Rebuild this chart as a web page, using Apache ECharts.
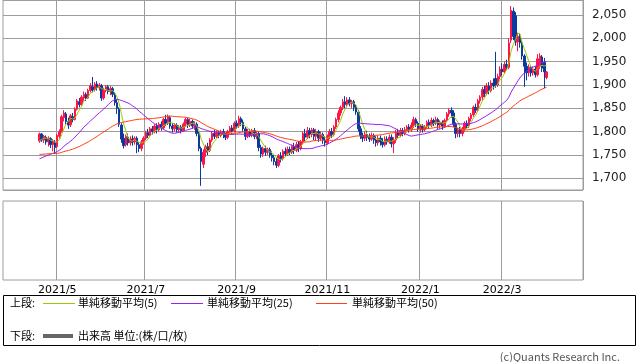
<!DOCTYPE html>
<html><head><meta charset="utf-8">
<script src="https://cdn.jsdelivr.net/npm/echarts@6/dist/echarts.min.js"></script>
<style>html,body{margin:0;padding:0;background:#fff}#c{width:638px;height:362px}</style>
</head><body><div id="c"></div>
<script>
// ---- calendar (TSE trading days) ----
const AXIS_START = '2021-03-29';
const AXIS_END = '2022-04-21';
const HOLIDAYS = ['2021-04-29','2021-05-03','2021-05-04','2021-05-05','2021-07-22','2021-07-23','2021-08-09',
  '2021-09-20','2021-09-23','2021-11-03','2021-11-23','2021-12-31','2022-01-03','2022-01-10','2022-02-11',
  '2022-02-23','2022-03-21'];
const FIRST_CANDLE = '2021-04-20';
const LABEL_MONTHS = ['2021/5','2021/7','2021/9','2021/11','2022/1','2022/3'];
const PRICE_TICKS = [1700,1750,1800,1850,1900,1950,2000,2050];

// ---- daily prices (visible window) ----
const open = [
1780,1795,1782,1788,1778,1785,1772,1778,1768,1790, 1800,1830,1838,1822,1815,1832,1826,1848,1864,1858,
1872,1880,1872,1888,1896,1890,1902,1894,1898,1872, 1888,1896,1886,1892,1880,1862,1848,1814,1786,1772,
1788,1776,1784,1778,1786,1772,1764,1778,1786,1798, 1792,1806,1800,1812,1804,1816,1808,1826,1818,1830,
1812,1806,1814,1804,1810,1802,1816,1826,1814,1822, 1812,1816,1796,1764,1730,1756,1768,1760,1782,1796,
1790,1798,1792,1800,1794,1788,1800,1808,1800,1818, 1812,1828,1820,1806,1790,1800,1794,1802,1790,1796,
1766,1752,1764,1756,1762,1750,1744,1736,1728,1748, 1742,1758,1752,1762,1756,1768,1760,1772,1764,1778,
1796,1788,1802,1794,1804,1790,1800,1786,1794,1782, 1776,1790,1800,1794,1810,1826,1840,1852,1864,1858,
1868,1860,1864,1852,1842,1806,1792,1786,1794,1788, 1784,1792,1782,1776,1786,1778,1772,1784,1778,1788,
1774,1782,1798,1792,1802,1796,1804,1810,1804,1814, 1826,1818,1806,1812,1804,1810,1820,1814,1824,1818,
1826,1814,1820,1812,1824,1838,1846,1840,1816,1796, 1804,1796,1806,1818,1812,1828,1836,1852,1846,1866,
1874,1890,1882,1898,1888,1904,1914,1900,1918,1934, 1928,1944,1938,1996,2058,2048,1992,2004,1990,1962,
1940,1926,1938,1926,1934,1922,1940,1960,1948,1916];
const close = [
1795,1782,1790,1778,1786,1772,1780,1766,1792,1800, 1832,1840,1822,1814,1834,1826,1848,1866,1858,1874,
1880,1872,1888,1898,1890,1902,1894,1900,1872,1888, 1896,1886,1892,1880,1862,1850,1816,1784,1770,1790,
1776,1784,1778,1786,1772,1764,1778,1786,1798,1792, 1806,1800,1812,1804,1816,1808,1826,1818,1832,1812,
1806,1814,1804,1810,1802,1816,1826,1814,1822,1812, 1816,1796,1764,1736,1756,1768,1760,1782,1796,1790,
1798,1792,1800,1794,1788,1800,1808,1800,1818,1812, 1828,1820,1806,1790,1800,1794,1802,1790,1796,1766,
1752,1764,1756,1762,1750,1744,1736,1728,1748,1742, 1758,1752,1762,1756,1768,1760,1772,1764,1778,1796,
1788,1802,1794,1804,1790,1800,1786,1794,1782,1776, 1790,1800,1794,1810,1826,1840,1852,1864,1858,1868,
1860,1864,1852,1842,1806,1792,1786,1794,1788,1784, 1792,1782,1776,1786,1778,1772,1784,1778,1788,1774,
1782,1798,1792,1802,1796,1804,1810,1804,1814,1826, 1818,1806,1812,1804,1810,1820,1814,1824,1818,1826,
1814,1820,1812,1824,1838,1846,1840,1816,1796,1804, 1796,1806,1818,1812,1828,1836,1852,1846,1866,1874,
1890,1882,1898,1888,1904,1898,1900,1918,1934,1928, 1944,1938,1990,2060,2004,1992,2004,1990,1962,1940,
1926,1938,1926,1934,1922,1956,1962,1936,1928,1928];
const low = [
1776,1778,1776,1772,1768,1765,1758,1752,1765,1785, 1798,1822,1815,1806,1810,1820,1824,1845,1852,1855,
1866,1866,1870,1884,1884,1886,1888,1888,1866,1868, 1884,1880,1878,1874,1856,1838,1810,1776,1764,1768,
1770,1770,1770,1772,1754,1756,1758,1772,1782,1786, 1790,1794,1796,1796,1800,1802,1804,1812,1814,1806,
1798,1800,1798,1797,1796,1800,1810,1808,1810,1806, 1804,1790,1758,1684,1722,1746,1750,1756,1778,1784,
1786,1786,1788,1786,1782,1784,1796,1794,1798,1806, 1808,1812,1800,1782,1786,1788,1788,1784,1784,1758,
1744,1746,1748,1750,1744,1736,1728,1722,1724,1734, 1738,1746,1748,1750,1752,1752,1756,1756,1760,1774,
1780,1784,1786,1788,1782,1780,1778,1780,1774,1768, 1772,1784,1786,1790,1806,1820,1834,1846,1850,1852,
1854,1850,1844,1836,1800,1784,1778,1780,1780,1778, 1780,1774,1768,1770,1770,1766,1768,1772,1774,1766,
1754,1776,1786,1788,1790,1792,1798,1798,1800,1808, 1810,1800,1798,1798,1800,1806,1808,1810,1812,1814,
1806,1806,1804,1808,1820,1832,1830,1810,1786,1788, 1788,1790,1800,1806,1808,1822,1832,1840,1842,1860,
1868,1874,1878,1880,1884,1890,1894,1896,1912,1920, 1924,1932,1934,1990,1996,1984,1972,1980,1954,1896,
1910,1918,1918,1920,1916,1918,1934,1928,1893,1912];
const high = [
1798,1797,1793,1792,1790,1788,1784,1782,1795,1805, 1836,1846,1842,1830,1838,1840,1852,1870,1872,1878,
1886,1884,1892,1904,1917,1906,1908,1904,1902,1894, 1900,1900,1898,1896,1884,1870,1852,1818,1796,1794,
1796,1790,1792,1790,1790,1778,1782,1790,1802,1806, 1810,1812,1816,1818,1820,1822,1830,1836,1837,1834,
1818,1818,1818,1814,1814,1820,1830,1830,1828,1826, 1822,1820,1800,1768,1762,1772,1776,1786,1800,1804,
1803,1802,1804,1806,1798,1804,1812,1814,1822,1824, 1834,1832,1826,1810,1806,1806,1806,1808,1800,1800,
1772,1768,1770,1766,1766,1758,1750,1744,1752,1756, 1762,1766,1768,1768,1772,1776,1778,1780,1782,1800,
1806,1810,1808,1808,1808,1806,1804,1800,1798,1790, 1794,1806,1808,1814,1830,1846,1856,1870,1876,1874,
1874,1868,1868,1858,1846,1812,1798,1800,1802,1796, 1798,1796,1790,1792,1792,1786,1790,1790,1794,1794,
1788,1804,1806,1808,1808,1810,1814,1816,1820,1832, 1830,1822,1816,1816,1814,1824,1826,1830,1828,1832,
1830,1824,1824,1828,1842,1850,1852,1846,1820,1808, 1810,1810,1822,1824,1832,1840,1856,1860,1870,1878,
1896,1898,1904,1906,1910,1914,1971,1924,1940,1946, 1950,1954,2000,2069,2066,2056,2012,2010,1996,1966,
1948,1944,1942,1940,1940,1966,1968,1964,1958,1930];
// closes of the 49 sessions before the window (only feed the moving averages)
const historyClose = [
1768,1772,1765,1760,1758,1762,1770,1774,1768,1762,1756,1760,1764,1758,1752,1756,1762,1766,1760,1754,
1750,1756,1760,1754,1748,
1736,1732,1728,1734,1738,1732,1726,1730,1736,1734,1728,1724,1730,1736,1732,1728,1734,1738,1736,1730,
1770,1776,1780,1784];

const MA_PERIODS = [5, 25, 50];
const MA_NAMES = ['単純移動平均(5)','単純移動平均(25)','単純移動平均(50)'];
const MA_COLORS = ['#99cc00','#9a1ff0','#ff4010'];
const UP = '#ff1449', DOWN = '#0a3a9e', GRIDC = '#9c9c9c';

// build categories
function ymd(d){return d.toISOString().slice(0,10);}
const cats = [];
{
  let d = new Date(AXIS_START+'T00:00:00Z'); const end = new Date(AXIS_END+'T00:00:00Z');
  while (d <= end) {
    const w = d.getUTCDay(); const s = ymd(d);
    if (w !== 0 && w !== 6 && HOLIDAYS.indexOf(s) < 0) cats.push(s);
    d = new Date(d.getTime()+86400000);
  }
}
// first trading day of each month -> label
const monthLabel = {};
for (let i=0;i<cats.length;i++){
  const [y,m] = cats[i].split('-');
  const lab = (+y)+'/'+(+m);
  if (i===0 || cats[i-1].slice(0,7)!==cats[i].slice(0,7)) monthLabel[i] = lab;
}
const isLabelIdx = i => monthLabel[i] !== undefined && LABEL_MONTHS.indexOf(monthLabel[i]) >= 0;
const startIdx = cats.indexOf(FIRST_CANDLE);

const kData = open.map((o,j)=>[startIdx+j, o, close[j], low[j], high[j]]);
const allClose = historyClose.concat(close);
const H = historyClose.length;
function maSeries(n){
  const out=[];
  for (let j=0;j<close.length;j++){
    const k=H+j; let s=0;
    for (let t=k-n+1;t<=k;t++) s+=allClose[t];
    out.push([startIdx+j, +(s/n).toFixed(2)]);
  }
  return out;
}

const chart = echarts.init(document.getElementById('c'), null, {renderer:'canvas'});
const xCommon = {
  type:'category', data:cats, boundaryGap:true,
  axisLine:{show:false}, axisTick:{show:false},
  splitLine:{show:true, interval:(i)=>isLabelIdx(i), lineStyle:{color:GRIDC, width:1}}
};
const FONT = '"DejaVu Sans", sans-serif';
const JFONT = '"Noto Sans CJK JP", sans-serif';
const fmt = v => String(v).replace(/\B(?=(\d{3})+(?!\d))/g, ',');

const series = [{
  type:'candlestick', xAxisIndex:0, yAxisIndex:0, data:kData, encode:{x:0, y:[1,2,3,4]},
  barWidth:2, silent:true,
  itemStyle:{color:UP, color0:DOWN, borderColor:UP, borderColor0:DOWN, borderWidth:1}
}];
MA_PERIODS.forEach((n,k)=>series.push({
  type:'line', name:MA_NAMES[k], xAxisIndex:0, yAxisIndex:0, data:maSeries(n),
  showSymbol:false, symbol:'none', silent:true, lineStyle:{color:MA_COLORS[k], width:1}, z:3+k
}));

const legendItems = [];
function txt(x,y,s,extra){return Object.assign({type:'text', x:x, y:y, silent:true,
  style:{text:s, font:'11px '+JFONT, fill:'#000', textAlign:'left', textVerticalAlign:'middle', align:'left', verticalAlign:'middle'}}, extra||{});}
function ln(x1,x2,y,color,w){return {type:'line', silent:true, shape:{x1:x1,y1:y,x2:x2,y2:y}, style:{stroke:color, lineWidth:w}};}
legendItems.push({type:'rect', silent:true, shape:{x:3.5,y:295.5,width:632,height:50}, style:{fill:'#fff', stroke:'#000', lineWidth:1}});
legendItems.push(txt(10,303,'上段:'));
legendItems.push(ln(43,75,303.5,MA_COLORS[0],1)); legendItems.push(txt(78,303,MA_NAMES[0]));
legendItems.push(ln(171,203,303.5,MA_COLORS[1],1)); legendItems.push(txt(207,303,MA_NAMES[1]));
legendItems.push(ln(316,347,303.5,MA_COLORS[2],1)); legendItems.push(txt(352,303,MA_NAMES[2]));
legendItems.push(txt(10,336,'下段:'));
legendItems.push(ln(43,73,336,'#666',4)); legendItems.push(txt(78,336,'出来高 単位:(株/口/枚)'));
legendItems.push({type:'text', x:620, y:357, silent:true, style:{text:'(c)Quants Research Inc.', font:'11px '+JFONT, fill:'#555', textAlign:'right', textVerticalAlign:'middle', align:'right', verticalAlign:'middle'}});

chart.setOption({
  animation:false,
  backgroundColor:'#fff',
  grid:[
    {left:3, top:0, width:580, height:190, show:true, borderColor:GRIDC, borderWidth:1, backgroundColor:'#fff'},
    {left:3, top:201, width:580, height:79, show:true, borderColor:GRIDC, borderWidth:1, backgroundColor:'#fff'}
  ],
  xAxis:[
    Object.assign({gridIndex:0, axisLabel:{show:false}}, xCommon),
    Object.assign({gridIndex:1, axisLabel:{show:true, interval:(i)=>isLabelIdx(i), formatter:(v,i)=>monthLabel[i]||'',
      color:'#000', fontSize:11, fontFamily:FONT, margin:5}}, xCommon)
  ],
  yAxis:[
    {type:'value', gridIndex:0, position:'right', min:1675, max:2082, splitNumber:8, minInterval:50, maxInterval:50,
     axisLine:{show:false}, axisTick:{show:false},
     axisLabel:{show:true, margin:9, color:'#222', fontSize:12, fontFamily:FONT, showMinLabel:false, showMaxLabel:false,
       formatter:v => PRICE_TICKS.indexOf(v)>=0 ? fmt(v) : ''},
     splitLine:{show:true, lineStyle:{color:GRIDC, width:1}}},
    {type:'value', gridIndex:1, min:0, max:1, show:false, splitLine:{show:false}}
  ],
  series:series,
  graphic:{elements:legendItems}
});
</script></body></html>
